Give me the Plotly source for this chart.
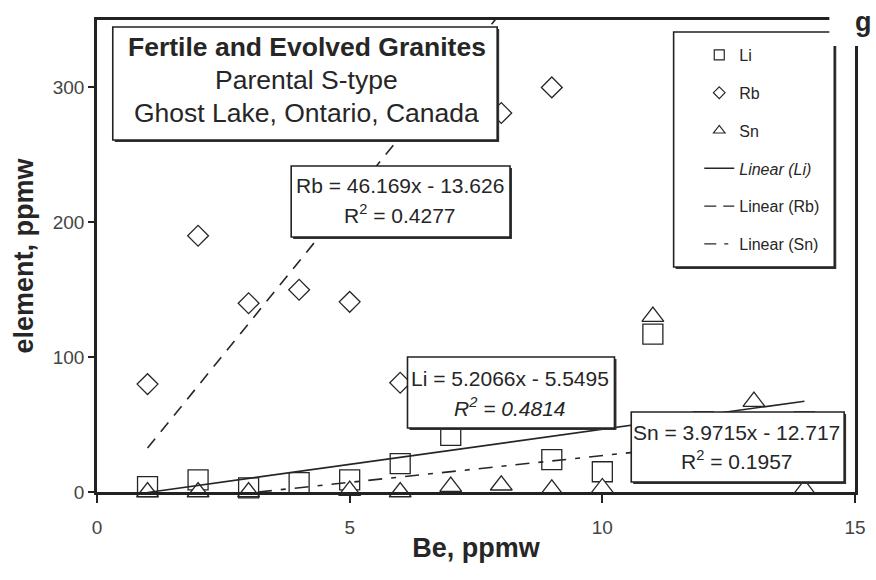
import plotly.graph_objects as go

# Be (ppmw) versus element concentrations (ppmw)
be_li = [1, 2, 3, 4, 5, 6, 7, 8, 9, 10, 11, 12, 14]
li = [4, 9, 3, 7, 9, 21, 42, 54, 24, 15, 117, 52, 52]

be_rb = [1, 2, 3, 4, 5, 6, 8, 9]
rb = [80, 190, 140, 150, 141, 81, 281, 300]

be_sn = [1, 2, 3, 5, 6, 7, 8, 9, 10, 11, 12, 13, 14]
sn = [0, 0, 0, 1, 0, 4, 5, 2, 3, 130, 10, 67, 2]

# Linear fits: slope, intercept, R^2
li_fit = (5.2066, -5.5495, 0.4814)
rb_fit = (46.169, -13.626, 0.4277)
sn_fit = (3.9715, -12.717, 0.1957)
fit_span = [1, 14]

x_ticks = [0, 5, 10, 15]
y_ticks = [0, 100, 200, 300]

FONT = "Liberation Sans, Arial, sans-serif"
INK = "#262626"

# plot area in pixels
L, R, T, B = 97, 866, 20, 492


def pxx(p):
    return (p - L) / (R - L)


def pxy(p):
    return (B - p) / (B - T)


def fit_line(fit):
    m, c, _ = fit
    return [m * x + c for x in fit_span]


fig = go.Figure()

marker_line = dict(color=INK, width=1.3)
fig.add_trace(go.Scatter(x=be_li, y=li, mode="markers", showlegend=False, cliponaxis=False,
                         marker=dict(symbol="square", size=20, color="white", line=marker_line)))
fig.add_trace(go.Scatter(x=be_rb, y=rb, mode="markers", showlegend=False, cliponaxis=False,
                         marker=dict(symbol="diamond", size=16, color="white", line=marker_line)))
fig.add_trace(go.Scatter(x=be_sn, y=sn, mode="markers", showlegend=False, cliponaxis=False,
                         marker=dict(symbol="triangle-up", size=19, color="white", line=marker_line)))

fig.add_trace(go.Scatter(x=fit_span, y=fit_line(li_fit), mode="lines", showlegend=False,
                         line=dict(color=INK, width=1.6)))
fig.add_trace(go.Scatter(x=fit_span, y=fit_line(rb_fit), mode="lines", showlegend=False,
                         line=dict(color=INK, width=1.6, dash="12px,9px")))
fig.add_trace(go.Scatter(x=fit_span, y=fit_line(sn_fit), mode="lines", showlegend=False,
                         line=dict(color=INK, width=1.6, dash="14px,9px,5px,9px")))

# legend entries
small = dict(color="white", line=dict(color=INK, width=1.2))
legend_items = [
    ("Li", dict(mode="markers", marker=dict(symbol="square", size=10, **small))),
    ("Rb", dict(mode="markers", marker=dict(symbol="diamond", size=9, **small))),
    ("Sn", dict(mode="markers", marker=dict(symbol="triangle-up", size=10, **small))),
    ("<i>Linear (Li)</i>", dict(mode="lines", line=dict(color=INK, width=1.4))),
    ("Linear (Rb)", dict(mode="lines", line=dict(color=INK, width=1.4, dash="12px,7px"))),
    ("Linear (Sn)", dict(mode="lines", line=dict(color=INK, width=1.4, dash="12px,8px,4px,8px"))),
]
for i, (name, spec) in enumerate(legend_items):
    fig.add_trace(go.Scatter(x=[None], y=[None], name=name, legendgroup=f"g{i}", **spec))

shapes = []
annotations = []


def box(x0, y0, x1, y1):
    shapes.append(dict(type="rect", xref="paper", yref="paper", layer="above",
                       x0=pxx(x0 + 2), x1=pxx(x1 + 2), y0=pxy(y0 + 2), y1=pxy(y1 + 2),
                       line=dict(width=0), fillcolor="#333"))
    shapes.append(dict(type="rect", xref="paper", yref="paper", layer="above",
                       x0=pxx(x0), x1=pxx(x1), y0=pxy(y0), y1=pxy(y1),
                       line=dict(color="#222", width=1.6), fillcolor="white"))


def text(x, y, s, size, bold=False):
    if bold:
        s = f"<b>{s}</b>"
    annotations.append(dict(xref="paper", yref="paper", x=pxx(x), y=pxy(y), text=s,
                            showarrow=False, xanchor="center", yanchor="middle",
                            font=dict(family=FONT, size=size, color=INK)))


# title box
box(113, 27, 503, 140)
text(310, 47, "Fertile and Evolved Granites", 26.5, bold=True)
text(310, 80, "Parental S-type", 26.5)
text(310, 113, "Ghost Lake, Ontario, Canada", 26.5)

# equation boxes
box(294, 166, 516, 237)
text(404, 186, f"Rb = {rb_fit[0]:.3f}x - {abs(rb_fit[1]):.3f}", 21)
text(404, 214, f"R<sup>2</sup> = {rb_fit[2]:.4f}", 21)

box(412, 357, 622, 428)
text(516, 378, f"Li = {li_fit[0]:.4f}x - {abs(li_fit[1]):.4f}", 21)
text(516, 407, f"<i>R<sup>2</sup> = {li_fit[2]:.4f}</i>", 21)

box(639, 412, 855, 482)
text(746, 432, f"Sn = {sn_fit[0]:.4f}x - {abs(sn_fit[1]):.3f}", 21)
text(746, 460, f"R<sup>2</sup> = {sn_fit[2]:.4f}", 21)

# legend frame
box(682, 32, 845, 267)

# panel letter
shapes.append(dict(type="rect", xref="paper", yref="paper", layer="above",
                   x0=pxx(840), x1=pxx(877), y0=pxy(-1), y1=pxy(46),
                   line=dict(width=0), fillcolor="white"))
annotations.append(dict(xref="paper", yref="paper", x=pxx(862), y=pxy(22), text="<b>g</b>",
                        showarrow=False, xanchor="center", yanchor="middle", xshift=12,
                        font=dict(family=FONT, size=27, color=INK)))

fig.update_layout(
    width=876, height=580,
    margin=dict(l=L, r=876 - R, t=T, b=580 - B),
    paper_bgcolor="white", plot_bgcolor="white",
    font=dict(family=FONT, color=INK),
    shapes=shapes, annotations=annotations,
    showlegend=True,
    legend=dict(x=pxx(708), y=pxy(38), xanchor="left", yanchor="top",
                bgcolor="rgba(0,0,0,0)", borderwidth=0,
                font=dict(family=FONT, size=16, color=INK),
                tracegroupgap=14, traceorder="grouped"),
    xaxis=dict(range=[0, 15], tickvals=x_ticks, showgrid=False, zeroline=False,
               showline=True, linecolor="#222", linewidth=2.5, mirror=True,
               ticks="outside", ticklen=8, tickcolor="#222", tickwidth=1.5,
               ticklabelstandoff=8,
               tickfont=dict(family=FONT, size=19, color="#444"),
               title=dict(text="<b>Be, ppmw</b>", font=dict(family=FONT, size=27, color=INK),
                          standoff=2)),
    yaxis=dict(range=[0, 350], tickvals=y_ticks, showgrid=False, zeroline=False,
               showline=True, linecolor="#222", linewidth=2.5, mirror=True,
               ticks="outside", ticklen=6, tickcolor="#222", tickwidth=1.5,
               tickfont=dict(family=FONT, size=19, color="#444"),
               title=dict(text="<b>element, ppmw</b>", font=dict(family=FONT, size=27, color=INK),
                          standoff=12)),
)

fig.write_html("out.html")
